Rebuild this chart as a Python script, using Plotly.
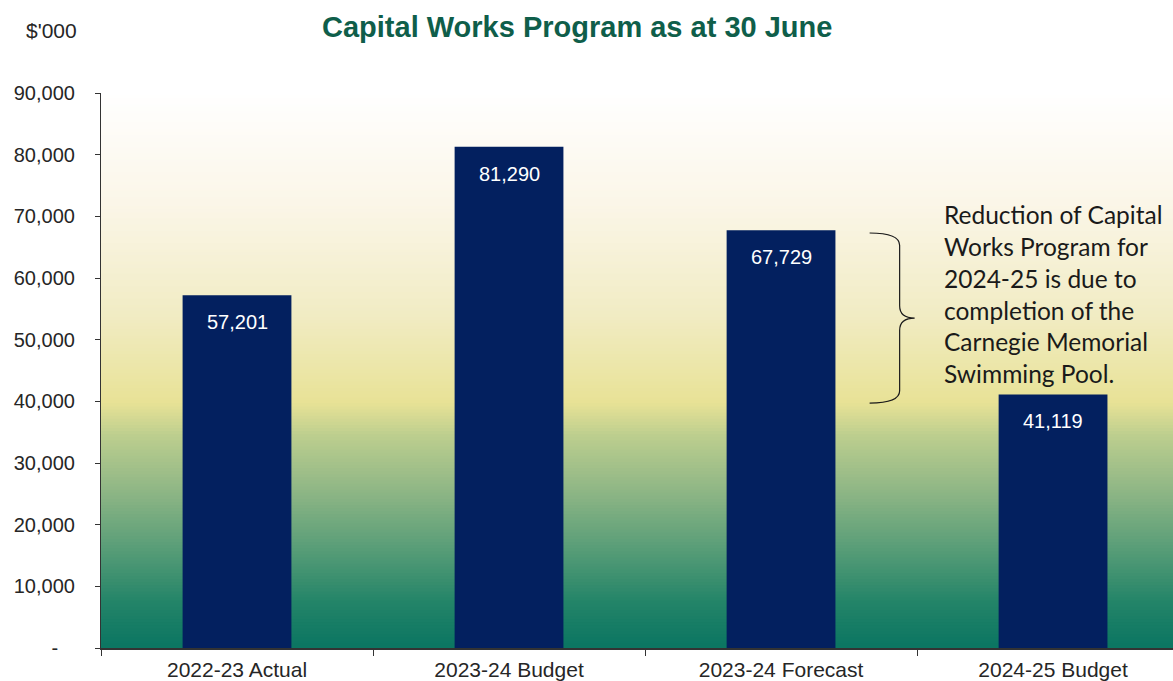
import plotly.graph_objects as go

# Chart data ($'000)
categories = ["2022-23 Actual", "2023-24 Budget", "2023-24 Forecast", "2024-25 Budget"]
values = [57201, 81290, 67729, 41119]
y_ticks = [0, 10000, 20000, 30000, 40000, 50000, 60000, 70000, 80000, 90000]
y_tick_labels = ["-\u00a0\u00a0\u00a0", "10,000", "20,000", "30,000", "40,000", "50,000",
                 "60,000", "70,000", "80,000", "90,000"]
note_lines = ["Reduction of Capital", "Works Program for", "2024-25 is due to",
              "completion of the", "Carnegie Memorial", "Swimming Pool."]

BAR_COLOR = "#03205F"
TITLE_COLOR = "#0F5E4A"
TEXT_COLOR = "#262626"
AXIS_COLOR = "#333333"
SANS = "Liberation Sans, Arial, sans-serif"

fig = go.Figure(
    go.Bar(
        x=categories,
        y=values,
        width=0.40,
        marker=dict(color=BAR_COLOR, line=dict(width=0)),
        hoverinfo="skip",
    )
)

# Vertical background gradient behind the bars (stops given top -> bottom)
stops = [
    (0.00, (255, 255, 255)),
    (0.20, (251, 246, 232)),
    (0.40, (241, 236, 196)),
    (0.56, (232, 226, 150)),
    (0.62, (188, 206, 142)),
    (0.72, (142, 182, 133)),
    (0.82, (90, 158, 120)),
    (0.92, (35, 132, 104)),
    (1.00, (11, 117, 98)),
]


def colour_at(t):
    for (t0, c0), (t1, c1) in zip(stops[:-1], stops[1:]):
        if t0 <= t <= t1:
            f = (t - t0) / (t1 - t0) if t1 > t0 else 0
            r, g, b = (round(a + (b_ - a) * f) for a, b_ in zip(c0, c1))
            return f"rgb({r},{g},{b})"
    return "rgb(%d,%d,%d)" % stops[-1][1]


n_strips = 180
shapes = []
for i in range(n_strips):
    top = 1 - i / n_strips
    bottom = 1 - (i + 1) / n_strips
    t = (i + 0.5) / n_strips
    shapes.append(dict(
        type="rect", xref="paper", yref="paper", x0=0, x1=1,
        y0=bottom, y1=top + 0.002, layer="below",
        line=dict(width=0), fillcolor=colour_at(t),
    ))

# Curly brace beside the 2023-24 Forecast -> 2024-25 Budget change
bx0, bx1, btip = 0.717, 0.745, 0.759
ytop, ybot = 67300, 39700
ymid = (ytop + ybot) / 2
dy = 2000
brace = (
    f"M {bx0},{ytop} Q {bx1},{ytop} {bx1},{ytop - dy} "
    f"L {bx1},{ymid + dy} Q {bx1},{ymid} {btip},{ymid} "
    f"Q {bx1},{ymid} {bx1},{ymid - dy} "
    f"L {bx1},{ybot + dy} Q {bx1},{ybot} {bx0},{ybot}"
)
shapes.append(dict(type="path", xref="paper", yref="y", path=brace,
                   line=dict(color="#1a1a1a", width=1.2), layer="above"))

annotations = []
# Value labels inside each bar, near the top
for cat, val in zip(categories, values):
    annotations.append(dict(
        x=cat, y=val, xref="x", yref="y", text=f"{val:,}", showarrow=False,
        yshift=-27, font=dict(family=SANS, size=20, color="white"),
    ))

# Explanatory note
annotations.append(dict(
    xref="paper", yref="y", x=0.7846, y=73000, xanchor="left", yanchor="top",
    text="<br>".join(note_lines), showarrow=False, align="left",
    font=dict(family="Lato, Carlito, Calibri, sans-serif", size=24.5, color="#1a1a1a"),
))

# Unit label and title
annotations.append(dict(
    xref="paper", yref="paper", x=-0.072, y=1.113, xanchor="left", yanchor="middle",
    text="$'000", showarrow=False, font=dict(family=SANS, size=21, color=TEXT_COLOR),
))
annotations.append(dict(
    xref="paper", yref="paper", x=0.444, y=1.119, xanchor="center", yanchor="middle",
    text="<b>Capital Works Program as at 30 June</b>", showarrow=False,
    font=dict(family=SANS, size=29, color=TITLE_COLOR),
))

fig.update_layout(
    width=1173, height=681,
    margin=dict(l=101, r=0, t=93, b=33, autoexpand=False),
    paper_bgcolor="white", plot_bgcolor="white",
    showlegend=False,
    shapes=shapes,
    annotations=annotations,
    bargap=0.6,
    xaxis=dict(
        range=[-0.5, 3.441], showgrid=False, zeroline=False,
        showline=True, linecolor=AXIS_COLOR, linewidth=1.5,
        ticks="outside", tickson="boundaries", ticklen=6, tickcolor=AXIS_COLOR,
        ticklabelstandoff=2,
        tickfont=dict(family=SANS, size=21, color=TEXT_COLOR),
        automargin=False, fixedrange=True,
    ),
    yaxis=dict(
        range=[0, 90000], tickvals=y_ticks, ticktext=y_tick_labels,
        showgrid=False, zeroline=False,
        showline=True, linecolor=AXIS_COLOR, linewidth=1.2,
        ticks="outside", ticklen=5, tickcolor=AXIS_COLOR,
        ticklabelstandoff=16,
        tickfont=dict(family=SANS, size=20, color=TEXT_COLOR),
        automargin=False, fixedrange=True,
    ),
)

fig.write_html("out.html", config={"displayModeBar": False})
